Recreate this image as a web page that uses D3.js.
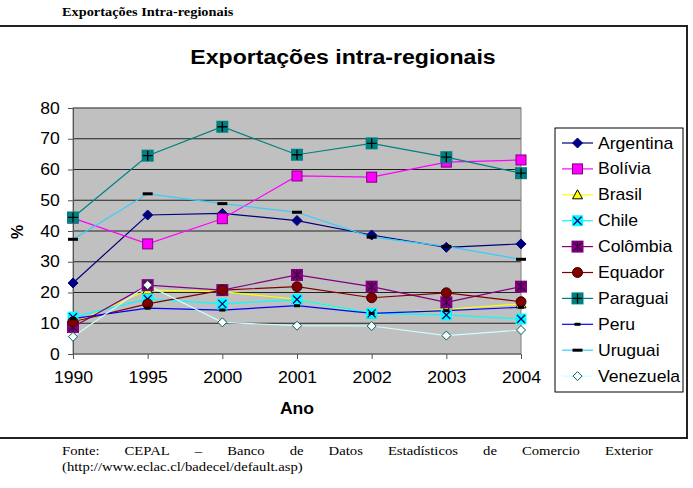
<!DOCTYPE html>
<html><head><meta charset="utf-8">
<script src="https://cdn.jsdelivr.net/npm/d3@7"></script>
<style>body{margin:0;background:#fff}svg{display:block}</style>
</head><body>
<svg id="c" width="693" height="488"></svg>
<script>
const years = ["1990","1995","2000","2001","2002","2003","2004"];
const yTicks = [0,10,20,30,40,50,60,70,80];
const countries = ["Argentina","Bolívia","Brasil","Chile","Colômbia","Equador","Paraguai","Peru","Uruguai","Venezuela"];
const argentina = [23.1,45.2,45.7,43.4,38.7,34.7,35.8];
const bolivia   = [44.2,35.8,44.0,57.9,57.5,62.4,63.1];
const brasil    = [10.0,20.8,20.3,17.8,12.9,14.5,16.3];
const chile     = [12.0,17.9,16.3,17.7,13.2,12.7,11.4];
const colombia  = [8.8,22.4,20.8,25.7,21.9,16.8,21.9];
const equador   = [10.5,16.3,20.8,21.9,18.3,19.9,17.0];
const paraguai  = [44.4,64.5,73.9,64.8,68.5,64.0,58.8];
const peru      = [11.5,14.9,14.3,15.7,13.2,14.1,15.2];
const uruguai   = [37.3,52.1,48.9,46.1,38.0,35.0,30.8];
const venezuela = [5.6,22.4,10.3,9.2,9.1,6.0,7.8];
const seriesValues = [argentina,bolivia,brasil,chile,colombia,equador,paraguai,peru,uruguai,venezuela];
const footerWords = ["Fonte:","CEPAL","–","Banco","de","Datos","Estadísticos","de","Comercio","Exterior"];

const styles = [
  {line:"#000080", marker:"diamond", fill:"#000080", stroke:"#000080"},
  {line:"#FF00FF", marker:"square", fill:"#FF00FF", stroke:"#800080"},
  {line:"#FFFF00", marker:"triangle", fill:"#FFFF00", stroke:"#000000"},
  {line:"#00FFFF", marker:"xsq", fill:"#00FFFF", stroke:"#000080"},
  {line:"#800080", marker:"star", fill:"#800080", stroke:"#400040"},
  {line:"#800000", marker:"circle", fill:"#800000", stroke:"#400000"},
  {line:"#008080", marker:"plus", fill:"#008080", stroke:"#000000"},
  {line:"#0000FF", marker:"dash", fill:"#000000", stroke:"#000000"},
  {line:"#33CCFF", marker:"longdash", fill:"#000000", stroke:"#000000"},
  {line:"#CCFFFF", marker:"wdiamond", fill:"#FFFFFF", stroke:"#006060"}
];

const svg = d3.select("#c");
const font = "'Liberation Sans', Arial, sans-serif";
const serif = "'Liberation Serif', 'Times New Roman', serif";
const SX = 1.1;

function txt(g, x, y, s, size, fam, opts={}){
  const t = g.append("text").attr("transform",`translate(${x},${y}) scale(${opts.sx||SX},1)`)
    .style("font-family",fam).attr("font-size",size).attr("fill","#000").text(s);
  if(opts.bold) t.attr("font-weight","bold");
  if(opts.anchor) t.attr("text-anchor",opts.anchor);
  return t;
}

txt(svg, 62, 16, "Exportações Intra-regionais", 12.8, serif, {bold:true, sx:1.12});

svg.append("line").attr("x1",0).attr("x2",688).attr("y1",26).attr("y2",26).attr("stroke","#222").attr("stroke-width",2);
svg.append("line").attr("x1",687).attr("x2",687).attr("y1",25).attr("y2",439).attr("stroke","#222").attr("stroke-width",2);
svg.append("line").attr("x1",0).attr("x2",688).attr("y1",438).attr("y2",438).attr("stroke","#222").attr("stroke-width",2);

txt(svg, 343, 64, "Exportações intra-regionais", 21, font, {bold:true, anchor:"middle"});

const x = d3.scalePoint().domain(years).range([73,521]);
const y = d3.scaleLinear().domain([0,80]).range([354,108]);

svg.append("rect").attr("x",73).attr("y",108).attr("width",448).attr("height",246).attr("fill","#C0C0C0");
svg.append("g").selectAll("line").data(yTicks.filter(t=>t>0)).join("line")
  .attr("x1",73).attr("x2",521).attr("y1",d=>y(d)).attr("y2",d=>y(d)).attr("stroke","#222").attr("stroke-width",1.2);
svg.append("rect").attr("x",73).attr("y",108).attr("width",448).attr("height",246).attr("fill","none").attr("stroke","#808080");

const yAxis = svg.append("g").attr("transform","translate(73,0)")
  .call(d3.axisLeft(y).tickValues(yTicks).tickSize(5).tickPadding(7));
const xAxis = svg.append("g").attr("transform","translate(0,354)")
  .call(d3.axisBottom(x).tickSize(5).tickPadding(13));
[yAxis,xAxis].forEach(a=>{
  a.select(".domain").attr("stroke","#555");
  a.selectAll(".tick line").attr("stroke","#555");
  a.selectAll("text").style("font-family",font).attr("font-size",16).attr("fill","#000")
    .attr("transform",`scale(${SX},1)`);
});
xAxis.select(".domain").remove();
svg.append("line").attr("x1",73).attr("x2",521).attr("y1",354).attr("y2",354).attr("stroke","#555");

txt(svg, 297, 414, "Ano", 16, font, {bold:true, anchor:"middle"});
svg.append("text").attr("transform","translate(23,232) rotate(-90)").attr("text-anchor","middle").style("font-family",font)
  .attr("font-size",16).attr("font-weight","bold").text("%");

function drawMarker(g, st, cx, cy){
  const m = st.marker;
  if(m==="diamond"||m==="wdiamond"){
    const r = m==="diamond"?5:4.5;
    g.append("path").attr("d",`M${cx},${cy-r}L${cx+r},${cy}L${cx},${cy+r}L${cx-r},${cy}Z`)
      .attr("fill",st.fill).attr("stroke",st.stroke).attr("stroke-width",1);
  } else if(m==="square"){
    g.append("rect").attr("x",cx-5).attr("y",cy-5).attr("width",10).attr("height",10)
      .attr("fill",st.fill).attr("stroke",st.stroke);
  } else if(m==="triangle"){
    g.append("path").attr("d",`M${cx},${cy-5}L${cx+5},${cy+4}L${cx-5},${cy+4}Z`)
      .attr("fill",st.fill).attr("stroke",st.stroke);
  } else if(m==="xsq"){
    g.append("rect").attr("x",cx-5.5).attr("y",cy-5.5).attr("width",11).attr("height",11).attr("fill",st.fill);
    g.append("path").attr("d",`M${cx-4},${cy-4}L${cx+4},${cy+4}M${cx+4},${cy-4}L${cx-4},${cy+4}`)
      .attr("stroke",st.stroke).attr("stroke-width",1.3);
  } else if(m==="star"){
    g.append("rect").attr("x",cx-6).attr("y",cy-6).attr("width",12).attr("height",12).attr("fill",st.fill);
    g.append("path").attr("d",`M${cx-4},${cy-4}L${cx+4},${cy+4}M${cx+4},${cy-4}L${cx-4},${cy+4}M${cx},${cy-5}L${cx},${cy+5}`)
      .attr("stroke",st.stroke).attr("stroke-width",1.3);
  } else if(m==="circle"){
    g.append("circle").attr("cx",cx).attr("cy",cy).attr("r",5).attr("fill",st.fill).attr("stroke",st.stroke);
  } else if(m==="plus"){
    g.append("rect").attr("x",cx-6).attr("y",cy-6).attr("width",12).attr("height",12).attr("fill",st.fill);
    g.append("path").attr("d",`M${cx-5},${cy}L${cx+5},${cy}M${cx},${cy-5}L${cx},${cy+5}`)
      .attr("stroke",st.stroke).attr("stroke-width",1.3);
  } else if(m==="dash"){
    g.append("rect").attr("x",cx-3).attr("y",cy-1.5).attr("width",6).attr("height",3).attr("fill",st.fill);
  } else if(m==="longdash"){
    g.append("rect").attr("x",cx-5).attr("y",cy-1.5).attr("width",10).attr("height",3).attr("fill",st.fill);
  }
}

const lineGen = d3.line().x((d,i)=>x(years[i])).y(d=>y(d));
const plot = svg.append("g");
seriesValues.forEach((vals,si)=>{
  plot.append("path").attr("d",lineGen(vals)).attr("fill","none").attr("stroke",styles[si].line).attr("stroke-width",1.2);
});
seriesValues.forEach((vals,si)=>{
  const g = plot.append("g");
  vals.forEach((v,i)=>drawMarker(g, styles[si], x(years[i]), y(v)));
});

const lg = svg.append("g");
lg.append("rect").attr("x",555).attr("y",128).attr("width",128).attr("height",264).attr("fill","#fff").attr("stroke","#000");
countries.forEach((c,i)=>{
  const ly = 143 + i*25.9;
  lg.append("line").attr("x1",562).attr("x2",593).attr("y1",ly).attr("y2",ly).attr("stroke",styles[i].line).attr("stroke-width",1.2);
  drawMarker(lg, styles[i], 577.5, ly);
  txt(lg, 598, ly+5.5, c, 16, font);
});

// footer: justified first line
const ft = svg.append("g");
const fs = 13, fsx = 1.13;
const nodes = footerWords.map(w=>txt(ft, 0, 455, w, fs, serif, {sx:fsx}));
const widths = nodes.map(n=>n.node().getComputedTextLength()*fsx);
const total = d3.sum(widths);
const gap = (653 - 62 - total)/(footerWords.length-1);
let cx = 62;
nodes.forEach((n,i)=>{ n.attr("transform",`translate(${cx},455) scale(${fsx},1)`); cx += widths[i]+gap; });
txt(ft, 62, 471, "(http://www.eclac.cl/badecel/default.asp)", fs, serif, {sx:fsx});
</script>
</body></html>
